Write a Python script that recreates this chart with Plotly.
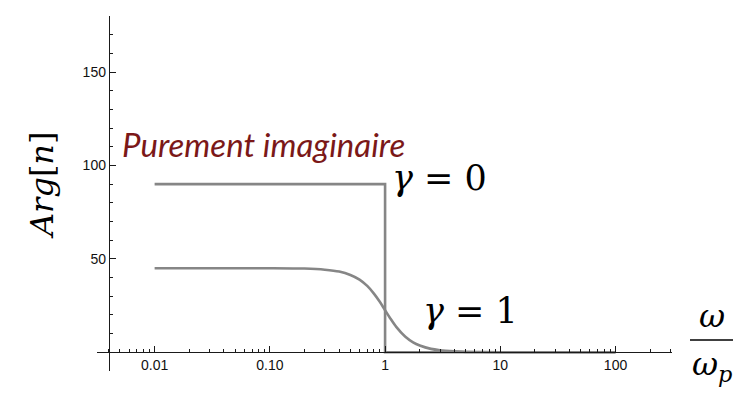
import math
import plotly.graph_objects as go

# Phase of the refractive index versus reduced frequency
omega_ratio = [0.01, 0.1, 0.2, 0.3, 0.4, 0.5, 0.6, 0.7, 0.8, 0.9, 1.0,
               1.1, 1.25, 1.5, 1.75, 2, 2.5, 3, 4, 5, 7, 10, 100]
arg_gamma1 = [45, 45, 44.8, 44.2, 43.2, 41.4, 38.9, 35.5, 31.4, 27.0, 22.5,
              18.5, 13.6, 8.3, 5.3, 3.6, 1.8, 1.1, 0.5, 0.2, 0.1, 0, 0]
omega_gamma0 = [0.01, 1, 1, 100]
arg_gamma0 = [90, 90, 0, 0]

x_tickvals = [0.01, 0.1, 1, 10, 100]
x_ticktext = ["0.01", "0.10", "1", "10", "100"]
x_minorvals = [k * 10.0 ** e for e in range(-3, 3) for k in range(2, 10)]
y_tickvals = [50, 100, 150]
y_ticktext = ["50", "100", "150"]

x_range_log = [-2.5, 2.49]
y_range = [-10.05, 180.05]
y_axis_at = 0.004  # where the vertical axis crosses

W, H = 751, 401
ML, MR, MT, MB = 97, 79, 16, 30

line_col = "#868686"
axis_col = "#1a1a1a"
tick_font = dict(family="Liberation Sans", size=14, color="#111")
math_font = "DejaVu Serif"

xpos = (math.log10(y_axis_at) - x_range_log[0]) / (x_range_log[1] - x_range_log[0])
ypos = (0 - y_range[0]) / (y_range[1] - y_range[0])

fig = go.Figure()
fig.add_trace(go.Scatter(x=omega_gamma0, y=arg_gamma0, mode="lines",
                         line=dict(color=line_col, width=2.6), hoverinfo="skip"))
fig.add_trace(go.Scatter(x=omega_ratio, y=arg_gamma1, mode="lines",
                         line=dict(color=line_col, width=2.6, shape="spline", smoothing=0.8),
                         hoverinfo="skip"))

fig.update_layout(
    width=W, height=H,
    margin=dict(l=ML, r=MR, t=MT, b=MB, pad=0),
    paper_bgcolor="white", plot_bgcolor="white",
    showlegend=False,
    xaxis=dict(
        type="log", range=x_range_log, domain=[0, 1],
        anchor="free", position=ypos,
        showline=True, linecolor=axis_col, linewidth=1,
        showgrid=False, zeroline=False,
        tickmode="array", tickvals=x_tickvals, ticktext=x_ticktext,
        ticks="inside", ticklen=6, tickwidth=1, tickcolor=axis_col,
        tickfont=tick_font,
        minor=dict(tickmode="array", tickvals=x_minorvals, ticks="inside",
                   ticklen=3.5, tickwidth=1, tickcolor=axis_col, showgrid=False),
    ),
    yaxis=dict(
        range=y_range, domain=[0, 1],
        anchor="free", position=xpos,
        showline=True, linecolor=axis_col, linewidth=1,
        showgrid=False, zeroline=False,
        tickmode="array", tickvals=y_tickvals, ticktext=y_ticktext,
        ticks="inside", ticklen=6, tickwidth=1, tickcolor=axis_col,
        tickfont=tick_font,
        minor=dict(tickmode="linear", tick0=0, dtick=10, ticks="inside",
                   ticklen=3.5, tickwidth=1, tickcolor=axis_col, showgrid=False),
    ),
)


def px_x(p):
    return (p - ML) / (W - ML - MR)


def px_y(p):
    return (H - MB - p) / (H - MT - MB)


annots = [
    dict(text="<i>Purement imaginaire</i>", x=px_x(263), y=px_y(144),
         font=dict(family="Lato", size=33, color="#7b1818")),
    dict(text="<i>γ</i> = 0", x=px_x(439), y=px_y(178),
         font=dict(family=math_font, size=35, color="black")),
    dict(text="<i>γ</i> = 1", x=px_x(470), y=px_y(311),
         font=dict(family=math_font, size=35, color="black")),
    dict(text="<i>Arg</i>[<i>n</i>]", x=px_x(42), y=px_y(186), textangle=-90,
         font=dict(family=math_font, size=32, color="black")),
    dict(text="<i>ω</i>", x=px_x(712), y=px_y(316),
         font=dict(family=math_font, size=32, color="black")),
    dict(text="<i>ω<sub>p</sub></i>", x=px_x(712), y=px_y(366),
         font=dict(family=math_font, size=32, color="black")),
]
for a in annots:
    fig.add_annotation(xref="paper", yref="paper", showarrow=False,
                       xanchor="center", yanchor="middle", **a)

# fraction bar of the x-axis label
fig.add_shape(type="line", xref="paper", yref="paper",
              x0=px_x(690), x1=px_x(733), y0=px_y(340), y1=px_y(340),
              line=dict(color="black", width=1.5))

fig.write_html("out.html")
